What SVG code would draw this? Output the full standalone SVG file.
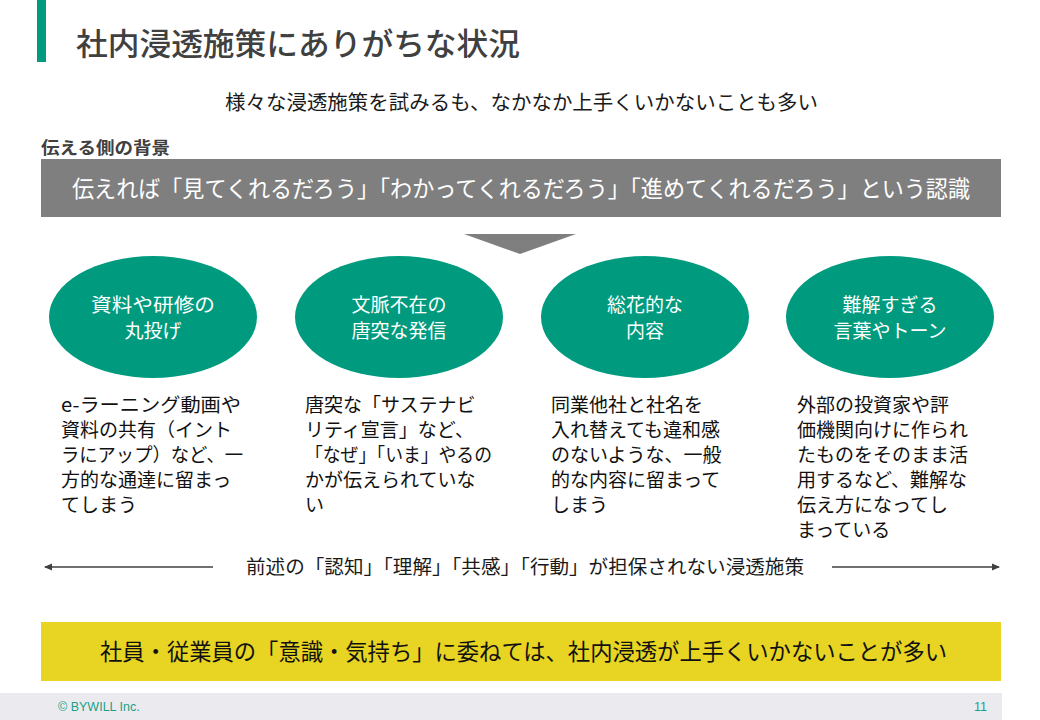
<svg xmlns="http://www.w3.org/2000/svg" width="1040" height="720" viewBox="0 0 1040 720">
<defs>
<style>
text{font-family:"Noto Sans CJK JP","Noto Sans",sans-serif;}
.title{font-size:31px;fill:#404040;font-weight:500;}
.sub{font-size:20px;fill:#1a1a1a;}
.label{font-size:17px;fill:#404040;font-weight:bold;}
.bar{font-size:23px;fill:#ffffff;}
.oval{fill:#009B7E;}
.ot{font-size:19px;fill:#ffffff;text-anchor:middle;}
.body{font-size:19px;fill:#111111;}
.arr{stroke:#404040;stroke-width:1.6;fill:none;}
.note{font-size:19px;fill:#1a1a1a;}
.concl{font-size:22.5px;fill:#111111;}
.foot{font-size:12.5px;fill:#1aa088;font-family:"Liberation Sans",Arial,sans-serif;}
</style>
<marker id="ah" markerWidth="8" markerHeight="8" refX="7" refY="4" orient="auto-start-reverse" markerUnits="userSpaceOnUse">
<path d="M0,0.5 L8,4 L0,7.5 z" fill="#404040"/>
</marker>
</defs>
<rect width="1040" height="720" fill="#ffffff"/>
<g id="header">
<rect x="37" y="0" width="9" height="62" fill="#009B7E"/>
<text class="title" x="76" y="55" textLength="444" lengthAdjust="spacingAndGlyphs">社内浸透施策にありがちな状況</text>
<text class="sub" x="225" y="110" textLength="593" lengthAdjust="spacingAndGlyphs">様々な浸透施策を試みるも、なかなか上手くいかないことも多い</text>
<text class="label" x="41" y="154" textLength="129" lengthAdjust="spacingAndGlyphs">伝える側の背景</text>
</g>
<g id="premise">
<rect x="41" y="159" width="960" height="58" fill="#7F7F7F"/>
<text class="bar" x="72" y="197" textLength="898" lengthAdjust="spacingAndGlyphs">伝えれば「見てくれるだろう」「わかってくれるだろう」「進めてくれるだろう」という認識</text>
</g>
<g id="connectors">
<polygon points="464,234 576,234 520,254" fill="#7F7F7F"/>
<line class="arr" x1="213" y1="567" x2="45" y2="567" marker-end="url(#ah)"/>
<line class="arr" x1="832" y1="567" x2="999" y2="567" marker-end="url(#ah)"/>
</g>
<g id="node1">
<ellipse class="oval" cx="153" cy="317" rx="104" ry="61"/>
<text class="ot" x="153" y="312" textLength="124" lengthAdjust="spacingAndGlyphs">資料や研修の</text>
<text class="ot" x="153" y="338">丸投げ</text>
<text class="body" x="61" y="412" textLength="180" lengthAdjust="spacingAndGlyphs">e-ラーニング動画や</text>
<text class="body" x="61" y="437">資料の共有（イント</text>
<text class="body" x="61" y="462" textLength="182" lengthAdjust="spacingAndGlyphs">ラにアップ）など、一</text>
<text class="body" x="61" y="487">方的な通達に留まっ</text>
<text class="body" x="61" y="512">てしまう</text>
</g>
<g id="node2">
<ellipse class="oval" cx="399" cy="317" rx="104" ry="61"/>
<text class="ot" x="399" y="312">文脈不在の</text>
<text class="ot" x="399" y="338">唐突な発信</text>
<text class="body" x="305" y="412">唐突な「サステナビ</text>
<text class="body" x="305" y="437">リティ宣言」など、</text>
<text class="body" x="305" y="462" textLength="187" lengthAdjust="spacingAndGlyphs">「なぜ」「いま」やるの</text>
<text class="body" x="305" y="487">かが伝えられていな</text>
<text class="body" x="305" y="512">い</text>
</g>
<g id="node3">
<ellipse class="oval" cx="645" cy="317" rx="104" ry="61"/>
<text class="ot" x="645" y="312">総花的な</text>
<text class="ot" x="645" y="338">内容</text>
<text class="body" x="551" y="412">同業他社と社名を</text>
<text class="body" x="551" y="437">入れ替えても違和感</text>
<text class="body" x="551" y="462">のないような、一般</text>
<text class="body" x="551" y="487">的な内容に留まって</text>
<text class="body" x="551" y="512">しまう</text>
</g>
<g id="node4">
<ellipse class="oval" cx="890" cy="317" rx="104" ry="61"/>
<text class="ot" x="890" y="312">難解すぎる</text>
<text class="ot" x="890" y="338">言葉やトーン</text>
<text class="body" x="797" y="412">外部の投資家や評</text>
<text class="body" x="797" y="437">価機関向けに作られ</text>
<text class="body" x="797" y="462">たものをそのまま活</text>
<text class="body" x="797" y="487">用するなど、難解な</text>
<text class="body" x="797" y="512">伝え方になってし</text>
<text class="body" x="797" y="537">まっている</text>
</g>
<g id="summary">
<text class="note" x="246" y="574" textLength="558" lengthAdjust="spacingAndGlyphs">前述の「認知」「理解」「共感」「行動」が担保されない浸透施策</text>
</g>
<g id="conclusion">
<rect x="41" y="622" width="960" height="59" fill="#E8D422"/>
<text class="concl" x="100" y="660" textLength="847" lengthAdjust="spacingAndGlyphs">社員・従業員の「意識・気持ち」に委ねては、社内浸透が上手くいかないことが多い</text>
</g>
<g id="footer">
<rect x="0" y="693" width="1002" height="27" fill="#EBEBEF"/>
<text class="foot" x="58" y="711">© BYWILL Inc.</text>
<text class="foot" x="987" y="711" text-anchor="end">11</text>
</g>
</svg>
